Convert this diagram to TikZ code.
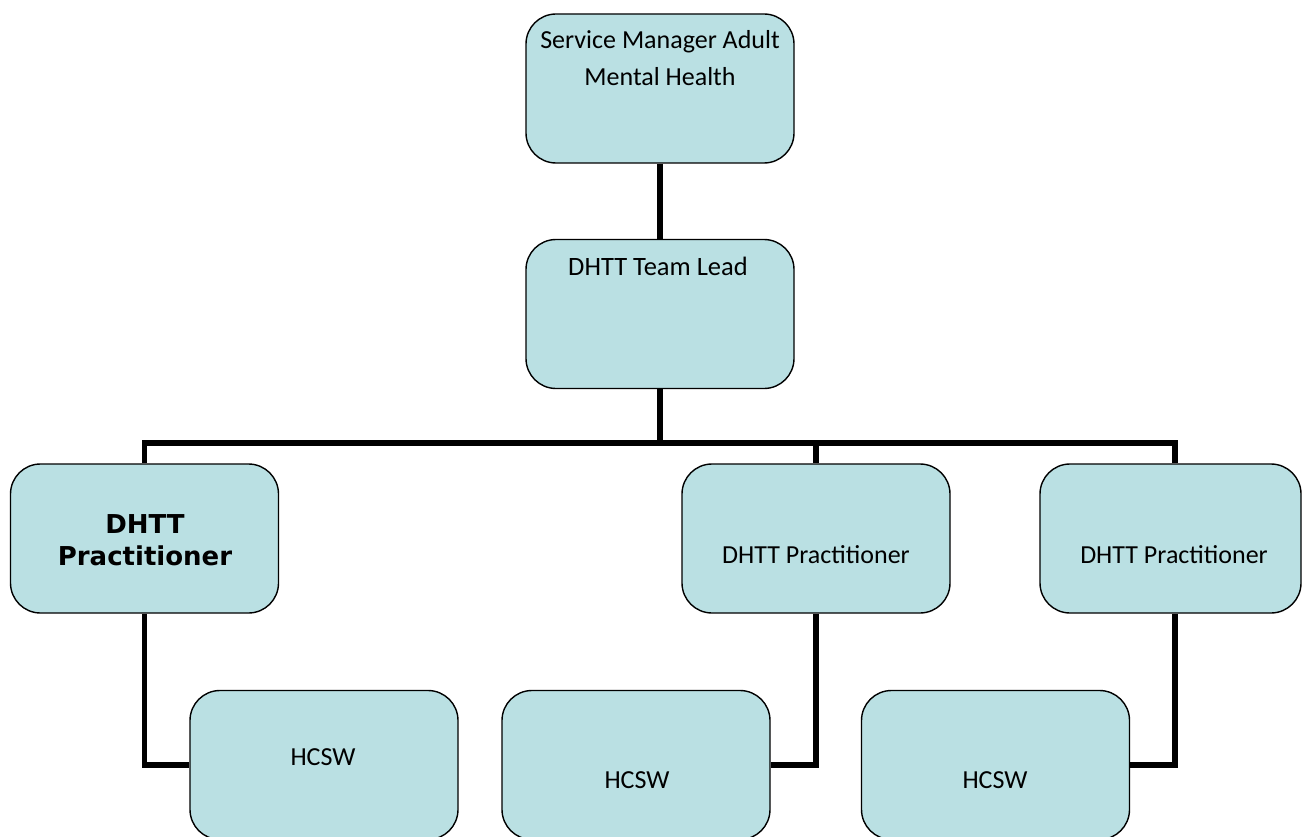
\documentclass[tikz,border=0pt]{standalone}
\usepackage{fontspec}
\setmainfont{Carlito}
\newfontfamily\verdanafont{DejaVu Sans}
\usetikzlibrary{positioning}
\definecolor{boxfill}{RGB}{186,224,227}

\begin{document}
\begin{tikzpicture}[x=1pt, y=-1pt, font=\fontsize{26}{37}\selectfont,
  box/.style={draw, line width=1.4pt, rounded corners=30pt, fill=boxfill, minimum width=268pt, minimum height=149pt, inner sep=0pt},
  txt/.style={align=center, inner sep=0pt},
  link/.style={line width=5.5pt}]
\useasboundingbox (0,0) rectangle (1303,837);
% boxes
\node[box] (mgr) at (660,88.5) {};
\node[box] (lead) at (660,314) {};
\node[box] (p1) at (144.5,538.5) {};
\node[box] (p2) at (816,538.5) {};
\node[box, minimum width=261pt] (p3) at (1170.5,538.5) {};
\node[box] (h1) at (324,765) {};
\node[box] (h2) at (636,765) {};
\node[box] (h3) at (995.5,765) {};
% labels
\node[txt] (mgrtxt) at (660,58) {Service Manager Adult\\Mental Health};
\node[txt, font=\fontsize{26.5}{37}\selectfont] (leadtxt) at (658,266) {DHTT Team Lead};
\node[txt, font=\verdanafont\bfseries\fontsize{26}{32}\selectfont] (p1txt) at (145,540) {DHTT\\Practitioner};
\node[txt] (p2txt) at (816,555) {DHTT Practitioner};
\node[txt] (p3txt) at (1174,555) {DHTT Practitioner};
\node[txt] (h1txt) at (323,757) {HCSW};
\node[txt] (h2txt) at (637,780) {HCSW};
\node[txt] (h3txt) at (995,780) {HCSW};
% connectors
\coordinate (bar) at (660,443);
\draw[link] (mgr) -- (lead);
\draw[link] (lead.south) -- (bar);
\draw[link] (bar) -| (p1.north);
\draw[link] (bar) -| (p2.north);
\draw[link] (bar) -| ([xshift=4.5pt]p3.north);
\draw[link] (p1.south) |- (h1.west);
\draw[link] (p2.south) |- (h2.east);
\draw[link] ([xshift=4.5pt]p3.south) |- (h3.east);
\end{tikzpicture}
\end{document}
